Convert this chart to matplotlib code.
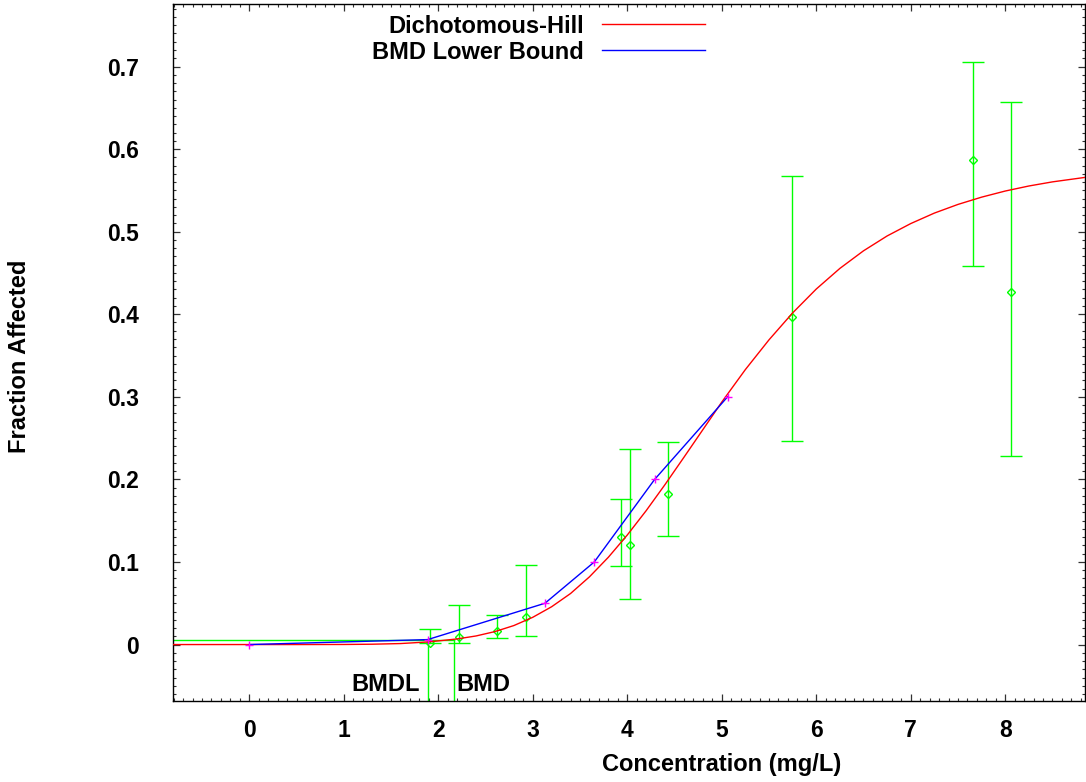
import matplotlib
matplotlib.use("Agg")
import matplotlib.pyplot as plt
from matplotlib.lines import Line2D
from matplotlib.ticker import FixedLocator, MultipleLocator

plt.rcParams['font.family'] = ['Liberation Sans', 'DejaVu Sans']
plt.rcParams['font.weight'] = 'bold'

dose = [1.91, 2.216, 2.618, 2.925, 3.93, 4.032, 4.434, 5.746, 7.661, 8.06]
frac = [0.0015, 0.0087, 0.0167, 0.0329, 0.1298, 0.1205, 0.1818, 0.3965, 0.5866, 0.4274]
lower = [0.0015, 0.0024, 0.0079, 0.0103, 0.0947, 0.0547, 0.1314, 0.2467, 0.458, 0.2278]
upper = [0.0188, 0.0475, 0.0354, 0.0959, 0.1758, 0.2371, 0.2455, 0.5676, 0.7052, 0.6576]

# ---- fitted Dichotomous-Hill curve ----
fit_x = [-0.81, 0.0, 0.5, 1.0, 1.3, 1.6, 1.9, 2.2, 2.4, 2.6, 2.8, 3.0, 3.2, 3.4,
         3.6, 3.8, 4.0, 4.2, 4.4, 4.6, 4.8, 5.0, 5.25, 5.5, 5.75, 6.0, 6.25, 6.5,
         6.75, 7.0, 7.25, 7.5, 7.75, 8.0, 8.25, 8.5, 8.85]
fit_y = [0.0, 0.0, 0.0, 0.0001, 0.0004, 0.0012, 0.0032, 0.0068, 0.0104, 0.0157,
         0.0230, 0.0330, 0.0458, 0.0618, 0.0820, 0.1057, 0.1326, 0.1621, 0.1938,
         0.2268, 0.2602, 0.2936, 0.3330, 0.3690, 0.4016, 0.4305, 0.4555, 0.4768,
         0.4948, 0.5098, 0.5225, 0.5330, 0.5418, 0.5492, 0.5553, 0.5603, 0.5658]

# ---- BMD lower bound curve ----
bound_x = [0.0, 1.888, 3.129, 3.651, 4.290, 5.062]
bound_y = [0.0, 0.006, 0.05, 0.1, 0.2, 0.3]

bmdl = 1.888
bmd = 2.166
bmr_level = 0.006

x_ticks = [0, 1, 2, 3, 4, 5, 6, 7, 8]
y_ticks = [0, 0.1, 0.2, 0.3, 0.4, 0.5, 0.6, 0.7]
y_tick_labels = ['0', '0.1', '0.2', '0.3', '0.4', '0.5', '0.6', '0.7']

GREEN = '#00ff00'
RED = '#ff0000'
BLUE = '#0000ff'
MAGENTA = '#ff00ff'

FS = 17
TFS = 16.5

W, H = 1086, 782
fig = plt.figure(figsize=(W / 100, H / 100), dpi=100)
L, R, T, B = 173, 1085, 3.5, 700.7
ax = fig.add_axes([L / W, 1 - B / H, (R - L) / W, (B - T) / H])

xmin, xmax = -0.807, 8.844
ymin, ymax = -0.068, 0.7763
ax.set_xlim(xmin, xmax)
ax.set_ylim(ymin, ymax)

# error bars with open diamonds
lo_err = [f - l for f, l in zip(frac, lower)]
hi_err = [u - f for f, u in zip(frac, upper)]
ax.errorbar(dose, frac, yerr=[lo_err, hi_err], fmt='D', mfc='none', mec=GREEN,
            ms=3.6, mew=1.0, ecolor=GREEN, elinewidth=1.0, capsize=7.8,
            capthick=1.0, zorder=2)

# BMD / BMDL indicator lines
ax.plot([xmin, bmd], [bmr_level, bmr_level], color=GREEN, lw=1.0, zorder=2)
ax.plot([bmd, bmd], [bmr_level, ymin], color=GREEN, lw=1.0, zorder=2)
ax.plot([bmdl, bmdl], [bmr_level, ymin], color=GREEN, lw=1.0, zorder=2)

# fitted curve and lower bound
ax.plot(fit_x, fit_y, color=RED, lw=1.0, zorder=3)
ax.plot(bound_x, bound_y, color=BLUE, lw=1.0, zorder=3)
ax.plot(bound_x, bound_y, linestyle='none', marker='+', color=MAGENTA,
        ms=5.5, mew=1.0, zorder=4)

# BMDL / BMD labels
ax.annotate('BMDL', xy=(bmdl, -0.0563), xytext=(-7.5, 0), textcoords='offset pixels',
            ha='right', va='baseline', fontsize=FS, fontweight='bold')
ax.annotate('BMD', xy=(bmd, -0.0563), xytext=(2, 0), textcoords='offset pixels',
            ha='left', va='baseline', fontsize=FS, fontweight='bold')

# ticks
ax.xaxis.set_major_locator(FixedLocator(x_ticks))
ax.xaxis.set_minor_locator(MultipleLocator(0.1))
ax.yaxis.set_major_locator(FixedLocator(y_ticks))
ax.yaxis.set_minor_locator(MultipleLocator(0.01))
ax.set_yticklabels(y_tick_labels)
ax.tick_params(which='both', direction='in', top=True, right=True, color='#333333')
ax.tick_params(which='major', length=4.8, width=0.9)
ax.tick_params(which='minor', length=2.4, width=0.8)
ax.tick_params(axis='x', which='major', pad=13.5, labelsize=TFS)
ax.tick_params(axis='y', which='major', pad=24.5, labelsize=TFS)
for lab in ax.get_xticklabels() + ax.get_yticklabels():
    lab.set_fontweight('bold')
for sp in ax.spines.values():
    sp.set_linewidth(1.0)
    sp.set_color('black')

# axis labels
ax.set_xlabel('Concentration (mg/L)', fontsize=FS, fontweight='bold')
ax.xaxis.label.set_va('baseline')
ax.xaxis.set_label_coords((722 - L) / (R - L), (B - 771) / (B - T))
ax.set_ylabel('Fraction Affected', fontsize=FS, fontweight='bold')
ax.yaxis.label.set_va('center')
ax.yaxis.set_label_coords((20 - L) / (R - L), (B - 356) / (B - T))

# legend (drawn manually, gnuplot style)
def fx(px):
    return px / W

def fy(py):
    return 1 - py / H

fig.text(fx(584), fy(32.8), 'Dichotomous-Hill', ha='right', va='baseline',
         fontsize=FS, fontweight='bold')
fig.text(fx(584), fy(59.0), 'BMD Lower Bound', ha='right', va='baseline',
         fontsize=FS, fontweight='bold')
fig.add_artist(Line2D([fx(602), fx(705)], [fy(24.3), fy(24.3)], color=RED, lw=1.0))
fig.add_artist(Line2D([fx(602), fx(705)], [fy(50), fy(50)], color=BLUE, lw=1.0))

fig.savefig('out.png', dpi=100)
